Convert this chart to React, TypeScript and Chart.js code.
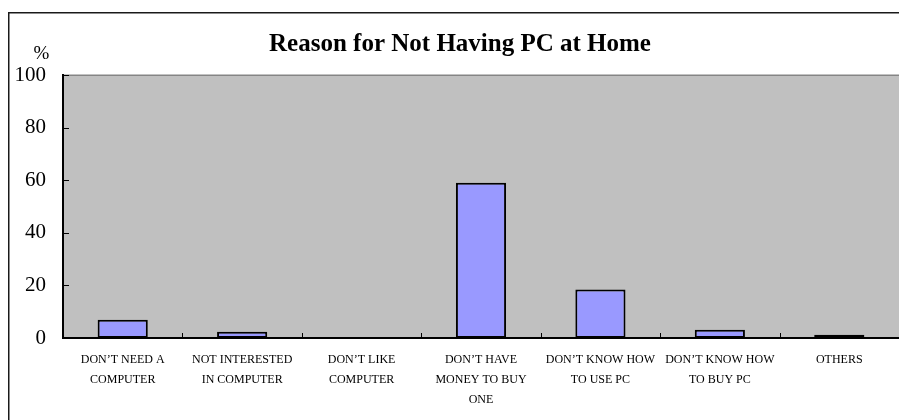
import React, { useEffect, useRef } from "react";
import { Chart, registerables } from "chart.js";

Chart.register(...registerables);

const categories: string[][] = [
  ["DON\u2019T NEED A", "COMPUTER"],
  ["NOT INTERESTED", "IN COMPUTER"],
  ["DON\u2019T LIKE", "COMPUTER"],
  ["DON\u2019T HAVE", "MONEY TO BUY", "ONE"],
  ["DON\u2019T KNOW HOW", "TO USE PC"],
  ["DON\u2019T KNOW HOW", "TO BUY PC"],
  ["OTHERS"],
];
const values: number[] = [6.9, 2.4, 0, 59.0, 18.4, 3.1, 1.2];
const yTicks: number[] = [0, 20, 40, 60, 80, 100];
const titleText = "Reason for Not Having PC at Home";
const unitText = "%";

const SERIF = '"Liberation Serif", "Times New Roman", serif';

const decorPlugin = {
  id: "decor",
  beforeDraw(chart: any) {
    const { ctx, chartArea } = chart;
    ctx.save();
    ctx.fillStyle = "#ffffff";
    ctx.fillRect(0, 0, chart.width, chart.height);
    // outer frame
    ctx.fillStyle = "#1a1a1a";
    ctx.fillRect(8, 12, 1.5, chart.height - 12);
    ctx.fillRect(8, 12, chart.width - 8, 1.5);
    // plot background
    ctx.fillStyle = "#c0c0c0";
    ctx.fillRect(chartArea.left, chartArea.top, chartArea.right - chartArea.left, chartArea.bottom - chartArea.top);
    ctx.fillStyle = "#858585";
    ctx.fillRect(chartArea.left, chartArea.top - 0.5, chartArea.right - chartArea.left, 1.5);
    // unit label
    ctx.fillStyle = "#000";
    ctx.font = "19px " + SERIF;
    ctx.textAlign = "center";
    ctx.textBaseline = "alphabetic";
    ctx.fillText(unitText, 41.5, 59);
    // title
    ctx.font = "bold 25px " + SERIF;
    ctx.fillText(titleText, 460, 51);
    ctx.restore();
  },
  afterDatasetsDraw(chart: any) {
    const { ctx, chartArea, scales } = chart;
    const x = scales.x;
    const y = scales.y;
    ctx.save();
    ctx.strokeStyle = "#000";
    ctx.lineWidth = 1;
    yTicks.forEach((v) => {
      const py = Math.round(y.getPixelForValue(v)) + 0.5;
      ctx.beginPath();
      ctx.moveTo(chartArea.left, py);
      ctx.lineTo(chartArea.left + 6, py);
      ctx.stroke();
    });
    for (let i = 0; i < categories.length - 1; i++) {
      const px = Math.round((x.getPixelForValue(i) + x.getPixelForValue(i + 1)) / 2) + 0.5;
      ctx.beginPath();
      ctx.moveTo(px, chartArea.bottom);
      ctx.lineTo(px, chartArea.bottom - 5);
      ctx.stroke();
    }
    ctx.restore();
  },
};

export default function App() {
  const ref = useRef<HTMLCanvasElement | null>(null);
  useEffect(() => {
    document.documentElement.style.overflow = "hidden";
    document.body.style.overflow = "hidden";
    const canvas = ref.current!;
    const chart = new Chart(canvas, {
      type: "bar",
      data: {
        labels: categories,
        datasets: [
          {
            data: values,
            backgroundColor: "#9999ff",
            borderColor: "#000000",
            borderWidth: 2,
            borderSkipped: false,
            barPercentage: 0.42,
            categoryPercentage: 1,
          },
        ],
      },
      options: {
        responsive: false,
        animation: false,
        events: [],
        layout: { padding: { left: 0, right: 0, top: 75, bottom: 0 } },
        plugins: {
          legend: { display: false },
          tooltip: { enabled: false },
          title: { display: false },
        },
        scales: {
          x: {
            grid: { display: false, drawTicks: false },
            border: { display: true, color: "#000", width: 2 },
            ticks: {
              color: "#000",
              font: { family: SERIF, size: 12, lineHeight: 20 / 12 },
              padding: 12,
              maxRotation: 0,
              autoSkip: false,
            },
            afterFit(scale: any) {
              scale.height = 82;
            },
          },
          y: {
            min: 0,
            max: 100,
            grid: { display: false, drawTicks: false },
            border: { display: true, color: "#000", width: 2 },
            ticks: {
              stepSize: 20,
              color: "#000",
              font: { family: SERIF, size: 21 },
              padding: 17,
            },
            afterFit(scale: any) {
              scale.width = 63;
            },
          },
        },
      },
      plugins: [decorPlugin],
    });
    return () => chart.destroy();
  }, []);
  return (
    <canvas
      ref={ref}
      width={899}
      height={420}
      style={{ position: "fixed", left: 0, top: 0, width: 899, height: 420 }}
    />
  );
}
